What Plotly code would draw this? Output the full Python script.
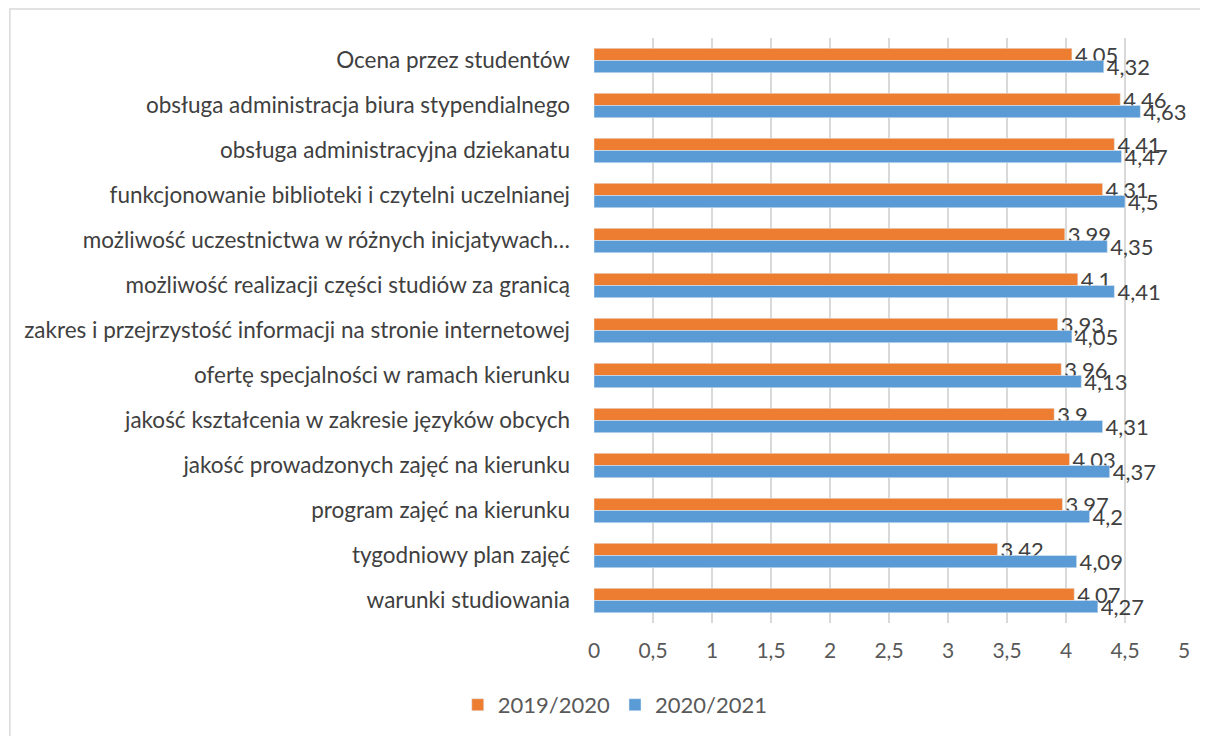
import plotly.graph_objects as go

categories = [
    "Ocena przez studentów",
    "obsługa administracja biura stypendialnego",
    "obsługa administracyjna dziekanatu",
    "funkcjonowanie biblioteki i czytelni uczelnianej",
    "możliwość uczestnictwa w różnych inicjatywach…",
    "możliwość realizacji części studiów za granicą",
    "zakres i przejrzystość informacji na stronie internetowej",
    "ofertę specjalności w ramach kierunku",
    "jakość kształcenia w zakresie języków obcych",
    "jakość prowadzonych zajęć na kierunku",
    "program zajęć na kierunku",
    "tygodniowy plan zajęć",
    "warunki studiowania",
]
y2019 = [4.05, 4.46, 4.41, 4.31, 3.99, 4.1, 3.93, 3.96, 3.9, 4.03, 3.97, 3.42, 4.07]
y2020 = [4.32, 4.63, 4.47, 4.5, 4.35, 4.41, 4.05, 4.13, 4.31, 4.37, 4.2, 4.09, 4.27]

grey = "#595959"
dark = "#404040"
font = "Lato"

fig = go.Figure()
for name, vals, color in [("2019/2020", y2019, "#ED7D31"), ("2020/2021", y2020, "#5B9BD5")]:
    labels = [str(v).replace(".", ",") for v in vals]
    fig.add_trace(go.Bar(
        name=name, y=categories, x=vals, orientation="h",
        marker=dict(color=color),
        text=labels, texttemplate="%{text}", textposition="outside",
        textfont=dict(size=22, color=dark, family=font),
        constraintext="none", cliponaxis=False,
    ))

fig.update_layout(
    width=1208, height=736,
    barmode="group", bargap=0.46, bargroupgap=0,
    separators=", ",
    plot_bgcolor="white", paper_bgcolor="white",
    margin=dict(l=586, r=32, t=30, b=121),
    font=dict(family=font, color=grey),
    xaxis=dict(range=[0, 5], dtick=0.5, showgrid=True, gridcolor="#d9d9d9", gridwidth=1.5,
               zeroline=False, showline=False, tickfont=dict(size=21, color=grey),
               ticks="", ticklabelstandoff=13),
    yaxis=dict(autorange="reversed", showgrid=False, showline=False, ticks="",
               tickfont=dict(size=22.5, color=dark), ticklabelstandoff=23),
    legend=dict(orientation="h", x=0.036, xanchor="center", y=-0.14, yanchor="middle",
                font=dict(size=22, color=grey), traceorder="normal"),
    showlegend=True,
)
fig.add_shape(type="rect", xref="paper", yref="paper", x0=-0.99, x1=1.2, y0=-0.4, y1=1.0496,
              line=dict(color="#d9d9d9", width=1.5), fillcolor="rgba(0,0,0,0)", layer="below")

fig.write_html("out.html")
